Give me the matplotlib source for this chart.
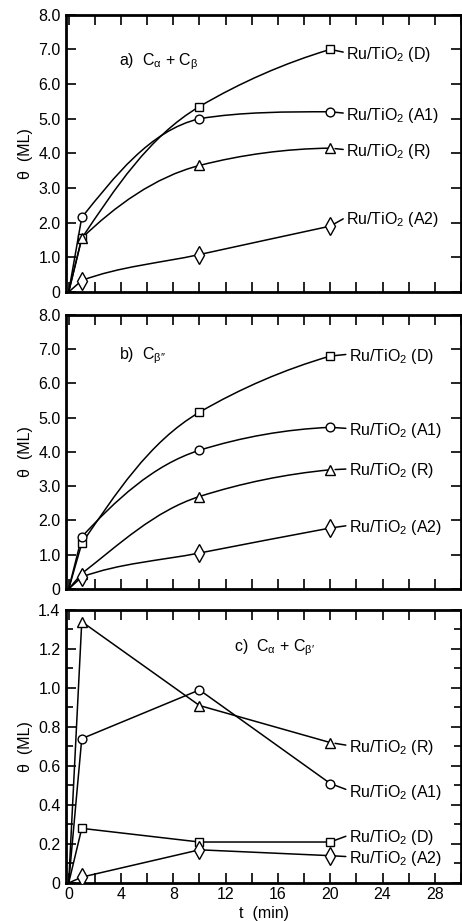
import numpy as np
import matplotlib
matplotlib.use("Agg")
import matplotlib.pyplot as plt
from matplotlib.path import Path
from matplotlib.patches import PathPatch
from matplotlib.ticker import MultipleLocator, FixedLocator, FixedFormatter

plt.rcParams['font.family'] = ['Liberation Sans', 'DejaVu Sans']
plt.rcParams['mathtext.fontset'] = 'custom'
plt.rcParams['mathtext.rm'] = 'Liberation Sans'
plt.rcParams['mathtext.it'] = 'Liberation Sans'
plt.rcParams['mathtext.bf'] = 'Liberation Sans:bold'

# time points (min), origin included
t = [0, 1, 10, 20]

samples = ['D', 'A1', 'R', 'A2']
markers = {'D': 's', 'A1': 'o', 'R': '^', 'A2': 'd'}

# a) C_alpha + C_beta
theta_a = {
    'D': [0, 1.55, 5.35, 7.0],
    'A1': [0, 2.15, 5.0, 5.2],
    'R': [0, 1.55, 3.65, 4.15],
    'A2': [0, 0.33, 1.08, 1.9],
}
# b) C_beta''
theta_b = {
    'D': [0, 1.33, 5.16, 6.8],
    'A1': [0, 1.52, 4.05, 4.72],
    'R': [0, 0.45, 2.7, 3.48],
    'A2': [0, 0.35, 1.05, 1.78],
}
# c) C_alpha + C_beta'
theta_c = {
    'D': [0, 0.28, 0.21, 0.21],
    'A1': [0, 0.74, 0.99, 0.51],
    'R': [0, 1.34, 0.91, 0.72],
    'A2': [0, 0.03, 0.17, 0.14],
}

yticks_ab = [0, 1, 2, 3, 4, 5, 6, 7, 8]
ylabels_ab = ['0', '1.0', '2.0', '3.0', '4.0', '5.0', '6.0', '7.0', '8.0']
yticks_c = [0, 0.2, 0.4, 0.6, 0.8, 1.0, 1.2, 1.4]
ylabels_c = ['0', '0.2', '0.4', '0.6', '0.8', '1.0', '1.2', '1.4']
xticks_c = [0, 4, 8, 12, 16, 20, 24, 28]

FS = 11.5
LW = 1.1


def unit(v):
    return v / np.hypot(v[0], v[1])


def smooth_path(ax, x, y, w_prev=0.4):
    # straight from origin, then cubic bezier through the markers
    p = ax.transData.transform(np.column_stack([x, y]))
    n = len(p)
    tang = {}
    for i in range(1, n - 1):
        tang[i] = unit(w_prev * unit(p[i] - p[i - 1]) + unit(p[i + 1] - p[i]))
    c = unit(p[-1] - p[-2])
    tp = tang[n - 2]
    tang[n - 1] = 2 * np.dot(c, tp) * c - tp
    verts = [p[0], p[1]]
    codes = [Path.MOVETO, Path.LINETO]
    for i in range(1, n - 1):
        L = np.hypot(*(p[i + 1] - p[i])) / 3
        lo, hi = sorted([p[i][1], p[i + 1][1]])
        c1 = p[i] + tang[i] * L
        c2 = p[i + 1] - tang[i + 1] * L
        # keep the curve from overshooting the points
        c1[1] = np.clip(c1[1], lo, hi)
        c2[1] = np.clip(c2[1], lo, hi)
        verts += [c1, c2, p[i + 1]]
        codes += [Path.CURVE4] * 3
    verts = ax.transData.inverted().transform(np.array(verts))
    return Path(verts, codes)


def style_axes(ax):
    for s in ax.spines.values():
        s.set_linewidth(2.0)
    ax.set_xlim(-0.2, 30)
    ax.tick_params(which='both', direction='in', top=True, right=True,
                   width=1.2, labelsize=FS, pad=4)
    ax.tick_params(which='major', length=7)
    ax.tick_params(which='minor', length=5)
    ax.set_ylabel('θ  (ML)', fontsize=FS, labelpad=4)


fig = plt.figure(figsize=(4.62, 9.21), dpi=100)
ax_a = fig.add_axes([0.143, 0.683, 0.855, 0.301])
ax_b = fig.add_axes([0.143, 0.3605, 0.855, 0.2975])
ax_c = fig.add_axes([0.143, 0.0413, 0.855, 0.2964])

for ax in (ax_a, ax_b):
    style_axes(ax)
    ax.set_ylim(0, 8)
    ax.yaxis.set_major_locator(FixedLocator(yticks_ab))
    ax.yaxis.set_major_formatter(FixedFormatter(ylabels_ab))
    ax.xaxis.set_major_locator(MultipleLocator(2))
    ax.set_xticklabels([])

style_axes(ax_c)
ax_c.set_ylim(0, 1.4)
ax_c.yaxis.set_major_locator(FixedLocator(yticks_c))
ax_c.yaxis.set_major_formatter(FixedFormatter(ylabels_c))
ax_c.yaxis.set_minor_locator(MultipleLocator(0.1))
ax_c.xaxis.set_major_locator(FixedLocator(xticks_c))
ax_c.xaxis.set_minor_locator(MultipleLocator(2))
ax_c.tick_params(axis='x', which='minor', length=7)
ax_c.tick_params(axis='x', pad=3)
ax_c.set_xlabel('t  (min)', fontsize=FS, labelpad=3)


def draw(ax, data, smooth, label_pos):
    for s in samples:
        y = data[s]
        if smooth:
            ax.add_patch(PathPatch(smooth_path(ax, t, y), fill=False,
                                   lw=LW, color='black', zorder=2))
        else:
            ax.plot(t, y, color='black', lw=LW, zorder=2)
        ms = {'d': 9, '^': 7, 's': 6.3, 'o': 6.3}[markers[s]]
        ax.plot(t[1:], y[1:], ls='none', marker=markers[s], ms=ms,
                mfc='white', mec='black', mew=1.0, zorder=3)
        lx, ly = label_pos[s]
        ax.annotate('Ru/TiO$_2$ (%s)' % s, xy=(t[-1], y[-1]), xytext=(lx, ly),
                    fontsize=FS, va='center', ha='left',
                    arrowprops=dict(arrowstyle='-', lw=LW, color='black',
                                    shrinkA=0, shrinkB=3.5, relpos=(0, 0.6)))


draw(ax_a, theta_a, True,
     {'D': (21.2, 6.85), 'A1': (21.2, 5.1), 'R': (21.2, 4.05), 'A2': (21.2, 2.1)})
draw(ax_b, theta_b, True,
     {'D': (21.4, 6.8), 'A1': (21.4, 4.63), 'R': (21.4, 3.45), 'A2': (21.4, 1.8)})
draw(ax_c, theta_c, False,
     {'D': (21.4, 0.235), 'A1': (21.4, 0.465), 'R': (21.4, 0.695), 'A2': (21.4, 0.125)})

ax_a.text(0.134, 0.83, 'a)  C$_{α}$ + C$_{β}$', transform=ax_a.transAxes,
          fontsize=FS, va='center')
ax_b.text(0.134, 0.85, 'b)  C$_{β″}$', transform=ax_b.transAxes,
          fontsize=FS, va='center')
ax_c.text(0.424, 0.86, 'c)  C$_{α}$ + C$_{β′}$', transform=ax_c.transAxes,
          fontsize=FS, va='center')

fig.savefig('out.png', dpi=100)
